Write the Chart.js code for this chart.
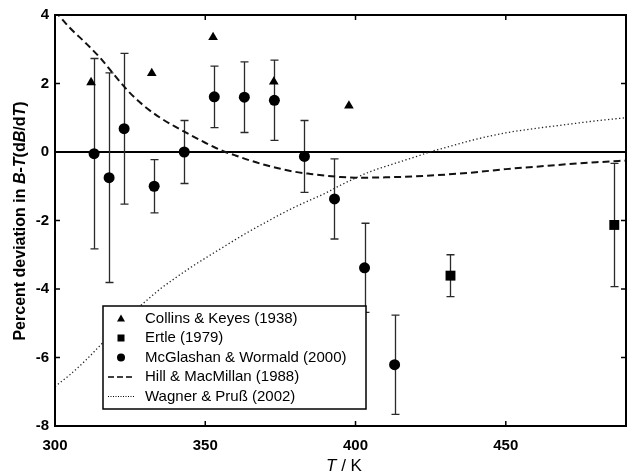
<!DOCTYPE html>
<html>
<head>
<meta charset="utf-8">
<script src="https://cdn.jsdelivr.net/npm/chart.js@4.4.0/dist/chart.umd.min.js"></script>
<style>
  html, body { margin: 0; padding: 0; background: #fff; }
  #wrap { position: relative; width: 633px; height: 476px; }
</style>
</head>
<body>
<div id="wrap"><canvas id="chart" width="633" height="476"></canvas></div>
<script>
// tick labels
const xTicks = [300, 350, 400, 450];
const yTicks = [-8, -6, -4, -2, 0, 2, 4];

// Collins & Keyes (1938)
const collinsT = [312, 332.2, 352.6, 372.8, 397.8];
const collinsDev = [2.03, 2.3, 3.35, 2.05, 1.35];

// Ertle (1979)
const ertleT = [431.6, 486.1];
const ertleDev = [-3.61, -2.13];
const ertleErr = [0.61, 1.8];

// McGlashan & Wormald (2000)
const mcgT = [313, 318, 323, 333, 343, 353, 363, 373, 383, 393, 403, 413];
const mcgDev = [-0.05, -0.75, 0.68, -1.0, 0.0, 1.61, 1.6, 1.51, -0.13, -1.37, -3.38, -6.21];
const mcgErr = [2.78, 3.06, 2.2, 0.78, 0.92, 0.9, 1.03, 1.17, 1.05, 1.17, 1.3, 1.45];

// Hill & MacMillan (1988)
const hillT = [300, 305, 310, 315, 320, 325, 330, 335, 340, 345, 350, 355, 360, 365, 370, 375,
               380, 385, 390, 395, 400, 410, 420, 430, 440, 450, 460, 470, 480, 490];
const hillDev = [4.12, 3.62, 3.2, 2.75, 2.22, 1.72, 1.32, 1.0, 0.74, 0.5, 0.27, 0.06, -0.1, -0.25, -0.38, -0.49,
                 -0.58, -0.64, -0.69, -0.73, -0.75, -0.74, -0.71, -0.66, -0.59, -0.5, -0.43, -0.36, -0.3, -0.25];

// Wagner & Pruß (2002)
const wagnerT = [300, 305, 310, 315, 320, 325, 330, 335, 340, 345, 350, 355, 360, 365, 370, 375, 380,
                 385, 390, 395, 400, 405, 410, 415, 420, 425, 430, 440, 450, 460, 470, 480, 490];
const wagnerDev = [-6.85, -6.5, -6.1, -5.65, -5.2, -4.75, -4.37, -4.0, -3.68, -3.38, -3.1, -2.83, -2.56, -2.3, -2.06, -1.82, -1.6,
                   -1.4, -1.2, -0.97, -0.76, -0.57, -0.42, -0.28, -0.14, 0.01, 0.13, 0.37, 0.56, 0.69, 0.8, 0.91, 1.0];

const FONT = "'Liberation Sans', Arial, Helvetica, sans-serif";

const pts = (xs, ys) => xs.map((v, i) => ({ x: v, y: ys[i] }));

const errorBars = {
  id: 'errorBars',
  beforeDatasetsDraw(chart) {
    const { ctx, scales: { x, y } } = chart;
    ctx.save();
    ctx.strokeStyle = '#2a2a2a';
    ctx.lineWidth = 1.3;
    chart.data.datasets.forEach(ds => {
      if (!ds.errors) return;
      ds.data.forEach((p, i) => {
        const e = ds.errors[i];
        const px = Math.round(x.getPixelForValue(p.x)) + 0.5;
        const top = y.getPixelForValue(p.y + e);
        const bot = y.getPixelForValue(p.y - e);
        ctx.beginPath();
        ctx.moveTo(px, top); ctx.lineTo(px, bot);
        ctx.moveTo(px - 4, top); ctx.lineTo(px + 4, top);
        ctx.moveTo(px - 4, bot); ctx.lineTo(px + 4, bot);
        ctx.stroke();
      });
    });
    ctx.restore();
  }
};

const frame = {
  id: 'frame',
  afterDatasetsDraw(chart) {
    const { ctx, chartArea: a, scales: { x, y } } = chart;
    ctx.save();
    ctx.strokeStyle = '#000';
    ctx.lineWidth = 2;
    ctx.strokeRect(a.left, a.top, a.right - a.left, a.bottom - a.top);
    ctx.lineWidth = 1.5;
    ctx.beginPath();
    xTicks.forEach(v => {
      const px = x.getPixelForValue(v);
      ctx.moveTo(px, a.bottom); ctx.lineTo(px, a.bottom - 5);
      ctx.moveTo(px, a.top); ctx.lineTo(px, a.top + 5);
    });
    yTicks.forEach(v => {
      const py = y.getPixelForValue(v);
      ctx.moveTo(a.left, py); ctx.lineTo(a.left + 5, py);
      ctx.moveTo(a.right, py); ctx.lineTo(a.right - 5, py);
    });
    ctx.stroke();
    ctx.restore();
  }
};

// draws a string made of pieces with different styles, starting at x
function drawRuns(ctx, runs, x, y) {
  runs.forEach(r => {
    ctx.font = r[1];
    ctx.fillText(r[0], x, y);
    x += ctx.measureText(r[0]).width;
  });
}
function runsWidth(ctx, runs) {
  let w = 0;
  runs.forEach(r => { ctx.font = r[1]; w += ctx.measureText(r[0]).width; });
  return w;
}

const annotations = {
  id: 'annotations',
  afterDraw(chart) {
    const { ctx } = chart;
    ctx.save();
    ctx.fillStyle = '#000';
    ctx.textBaseline = 'alphabetic';

    // y axis title
    const b = 'bold 16px ' + FONT, bi = 'italic bold 16px ' + FONT;
    const yRuns = [['Percent deviation in ', b], ['B', bi], ['-', b], ['T', bi], ['(d', b], ['B', bi], ['/d', b], ['T', bi], [')', b]];
    ctx.translate(25, 221);
    ctx.rotate(-Math.PI / 2);
    drawRuns(ctx, yRuns, -runsWidth(ctx, yRuns) / 2, 0);
    ctx.setTransform(1, 0, 0, 1, 0, 0);

    // x axis title
    const r = '17px ' + FONT, ri = 'italic 17px ' + FONT;
    const xRuns = [['T', ri], [' / K', r]];
    drawRuns(ctx, xRuns, 344 - runsWidth(ctx, xRuns) / 2, 471);

    // legend box
    const L = 103, T = 306, R = 366, B = 409;
    ctx.fillStyle = '#fff';
    ctx.fillRect(L, T, R - L, B - T);
    ctx.strokeStyle = '#000';
    ctx.lineWidth = 1.5;
    ctx.strokeRect(L, T, R - L, B - T);

    const labels = ['Collins & Keyes (1938)', 'Ertle (1979)', 'McGlashan & Wormald (2000)',
                    'Hill & MacMillan (1988)', 'Wagner & Pruß (2002)'];
    const rowY = [319, 338, 357.5, 377, 396.5];
    const sx = 121;
    ctx.fillStyle = '#000';
    ctx.textBaseline = 'middle';
    ctx.font = '15px ' + FONT;
    labels.forEach((t, i) => ctx.fillText(t, 145, rowY[i]));

    // symbols
    ctx.beginPath();
    ctx.moveTo(sx, rowY[0] - 4.5); ctx.lineTo(sx + 4, rowY[0] + 2.5); ctx.lineTo(sx - 4, rowY[0] + 2.5);
    ctx.closePath(); ctx.fill();
    ctx.fillRect(sx - 3.5, rowY[1] - 3.5, 7, 7);
    ctx.beginPath(); ctx.arc(sx, rowY[2], 4, 0, Math.PI * 2); ctx.fill();
    ctx.lineWidth = 1.5;
    ctx.setLineDash([6, 3]);
    ctx.beginPath(); ctx.moveTo(108, rowY[3]); ctx.lineTo(134, rowY[3]); ctx.stroke();
    ctx.lineWidth = 1;
    ctx.setLineDash([1, 1.5]);
    ctx.beginPath(); ctx.moveTo(108, rowY[4]); ctx.lineTo(134, rowY[4]); ctx.stroke();
    ctx.restore();
  }
};

new Chart(document.getElementById('chart'), {
  type: 'scatter',
  data: {
    datasets: [
      {
        label: 'Hill & MacMillan (1988)',
        data: pts(hillT, hillDev),
        showLine: true,
        borderColor: '#111',
        borderWidth: 2,
        borderDash: [7, 4],
        pointRadius: 0,
        cubicInterpolationMode: 'monotone'
      },
      {
        label: 'Wagner & Pruß (2002)',
        data: pts(wagnerT, wagnerDev),
        showLine: true,
        borderColor: '#222',
        borderWidth: 1.3,
        borderDash: [1.3, 2.4],
        pointRadius: 0,
        cubicInterpolationMode: 'monotone'
      },
      {
        label: 'McGlashan & Wormald (2000)',
        data: pts(mcgT, mcgDev),
        errors: mcgErr,
        pointStyle: 'circle',
        pointRadius: 5.5,
        backgroundColor: '#000',
        borderColor: '#000',
        borderWidth: 0
      },
      {
        label: 'Ertle (1979)',
        data: pts(ertleT, ertleDev),
        errors: ertleErr,
        pointStyle: 'rect',
        pointRadius: 7,
        backgroundColor: '#000',
        borderColor: '#000',
        borderWidth: 0
      },
      {
        label: 'Collins & Keyes (1938)',
        data: pts(collinsT, collinsDev),
        pointStyle: 'triangle',
        pointRadius: 5.6,
        backgroundColor: '#000',
        borderColor: '#000',
        borderWidth: 0
      }
    ]
  },
  options: {
    responsive: false,
    animation: false,
    events: [],
    layout: { padding: { top: 15, right: 1, left: 0, bottom: 0 } },
    plugins: { legend: { display: false }, tooltip: { enabled: false } },
    scales: {
      x: {
        type: 'linear',
        min: 300,
        max: 490,
        grid: { display: false, drawTicks: false },
        border: { display: false },
        afterBuildTicks: axis => { axis.ticks = xTicks.map(v => ({ value: v })); },
        afterFit: axis => { axis.height = 50; },
        ticks: { color: '#000', padding: 11, font: { family: FONT, size: 15, weight: 'bold' } }
      },
      y: {
        min: -8,
        max: 4,
        grid: {
          drawTicks: false,
          lineWidth: 2,
          color: c => (c.tick && c.tick.value === 0 ? '#000' : 'rgba(0,0,0,0)')
        },
        border: { display: false },
        afterBuildTicks: axis => { axis.ticks = yTicks.map(v => ({ value: v })); },
        afterFit: axis => { axis.width = 55; },
        ticks: { color: '#000', padding: 6, font: { family: FONT, size: 15, weight: 'bold' } }
      }
    }
  },
  plugins: [errorBars, frame, annotations]
});
</script>
</body>
</html>
